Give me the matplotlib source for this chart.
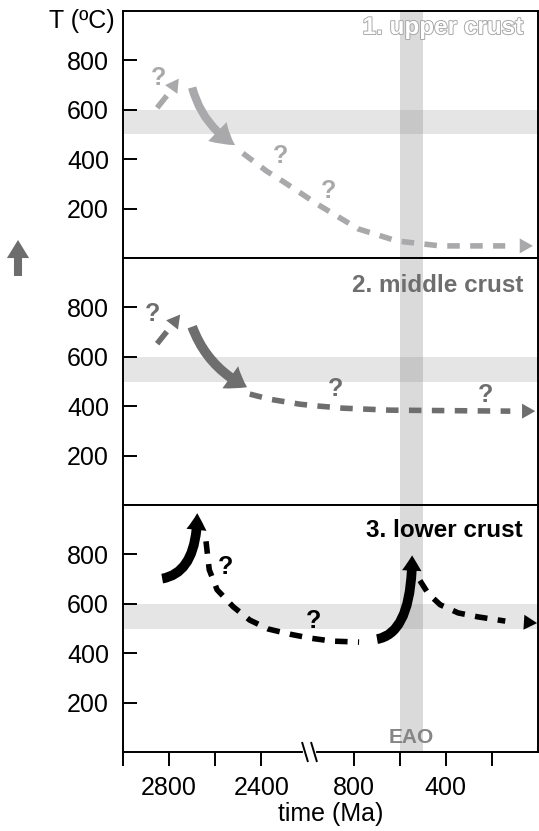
import matplotlib.pyplot as plt
import matplotlib.patheffects as pe
from matplotlib.markers import MarkerStyle
from matplotlib.patches import FancyArrowPatch
from matplotlib.transforms import Affine2D
import numpy as np

plt.rcParams['font.family'] = ['Liberation Sans', 'DejaVu Sans']
plt.rcParams['lines.scale_dashes'] = False

# time axis: 3000-2400 Ma and 800-0 Ma at 200 Ma per tick, 2400-800 Ma squeezed (axis break)
axis_ma = [0, 800, 2400, 3000]
axis_pos = [0, 4, 6, 9]


def fwd(x):
    return np.interp(x, axis_ma, axis_pos)


def inv(p):
    return np.interp(p, axis_pos, axis_ma)


tick_ma = [3000, 2800, 2600, 2400, 800, 600, 400, 200]
tick_labels = ['', '2800', '', '2400', '800', '', '400', '']
temp_ticks = [200, 400, 600, 800]
band_T = (500, 600)
eao_ma = (600, 500)
break_ma = [1650, 1480]

# 1. upper crust
up_early_ma = [2852, 2810]
up_early_T = [608, 657]
up_early_tip = (2758, 726)
up_solid = [(2700, 690), (2514, 457)]
up_cool_ma = [2480, 2304, 2024, 1416, 780, 612, 424, 142]
up_cool_T = [424, 351, 310, 216, 118, 69, 49, 49]
up_cool_tip = (22, 49)
up_q_ma = [2848, 2072, 1240]
up_q_T = [730, 412, 273]

# 2. middle crust
mid_early_ma = [2852, 2810]
mid_early_T = [653, 702]
mid_early_tip = (2752, 771)
mid_solid = [(2700, 722), (2462, 477)]
mid_cool_ma = [2450, 2248, 1728, 1384, 984, 642, 120]
mid_cool_T = [449, 428, 408, 400, 392, 384, 380]
mid_cool_tip = (12, 380)
mid_q_ma = [2870, 1120, 226]
mid_q_T = [775, 469, 445]

# 3. lower crust
low_solid1 = [(2830, 702), (2678, 967)]
low_cool1_ma = [2640, 2626, 2592, 2522, 2450, 2280, 1904, 1552, 1176, 776]
low_cool1_T = [853, 738, 657, 588, 534, 498, 477, 461, 449, 445]
low_solid2 = [(698, 457), (546, 796)]
low_cool2_ma = [512, 476, 424, 346, 260, 142]
low_cool2_T = [694, 641, 596, 563, 547, 530]
low_cool2_tip = (4, 522)
low_q_ma = [2554, 1488]
low_q_T = [747, 530]

c_up, c_mid, c_low = '#a9a9ab', '#6e6e6e', 'black'


def dashed_path(ax, xs, ys, tip, color):
    ax.plot(xs, ys, color=color, lw=4, dashes=(9, 7.5), dash_capstyle='butt', zorder=3)
    if tip is not None:
        ax.annotate('', xy=tip, xytext=(xs[-1], ys[-1]),
                    arrowprops=dict(arrowstyle='-|>,head_length=9.5,head_width=5.4',
                                    color=color, lw=0, shrinkA=0, shrinkB=0,
                                    mutation_scale=1), zorder=3)


def solid_arrow(ax, pts, color, conn, tail, head_w, head_l):
    ax.add_patch(FancyArrowPatch(pts[0], pts[1], connectionstyle=conn,
                                 arrowstyle=f'simple,head_length={head_l},head_width={head_w},tail_width={tail}',
                                 mutation_scale=1, color=color, lw=0, shrinkA=0, shrinkB=0, zorder=3))


def question_marks(ax, xs, ys, color):
    for x, y in zip(xs, ys):
        ax.text(x, y, '?', ha='center', va='center', fontsize=18, fontweight='bold', color=color)


fig = plt.figure(figsize=(5.39, 8.31), dpi=100)
panel_h = 247 / 831
left, width = 123 / 539, 415 / 539
bottom0 = 79 / 831
axes = [fig.add_axes([left, bottom0 + k * panel_h, width, panel_h]) for k in (2, 1, 0)]

for ax in axes:
    ax.set_xscale('function', functions=(fwd, inv))
    ax.set_xlim(3000, 0)
    ax.set_ylim(0, 1000)
    ax.axhspan(*band_T, color='#808080', alpha=0.2, lw=0, zorder=0)
    ax.axvspan(*eao_ma, color='#808080', alpha=0.29, lw=0, zorder=0)
    ax.set_yticks(temp_ticks)
    ax.tick_params(axis='y', direction='in', length=10, width=1.4, labelsize=18, pad=10)
    for s in ax.spines.values():
        s.set_linewidth(1.4)

ax1, ax2, ax3 = axes
for ax in (ax1, ax2):
    ax.tick_params(axis='x', bottom=False, labelbottom=False)
ax3.set_xticks(tick_ma, tick_labels)
ax3.tick_params(axis='x', direction='out', length=10, width=1.4, labelsize=18, pad=7)
ax3.set_xlabel('time (Ma)', fontsize=18, labelpad=2)

# panel 1
ax1.plot(up_early_ma, up_early_T, color=c_up, lw=4, solid_capstyle='butt')
ax1.annotate('', xy=up_early_tip, xytext=(up_early_ma[-1], up_early_T[-1]),
             arrowprops=dict(arrowstyle='-|>,head_length=9.5,head_width=5.4', color=c_up,
                             lw=0, shrinkA=0, shrinkB=0, mutation_scale=1))
solid_arrow(ax1, up_solid, c_up, 'arc3,rad=0.2', 6, 19, 16)
dashed_path(ax1, up_cool_ma, up_cool_T, up_cool_tip, c_up)
question_marks(ax1, up_q_ma, up_q_T, c_up)
ax1.text(0.964, 0.907, '1. upper crust', transform=ax1.transAxes, ha='right', va='baseline',
         fontsize=17.5, fontweight='bold', color='white',
         path_effects=[pe.withStroke(linewidth=1.3, foreground='#a3a3a3')])

# panel 2
ax2.plot(mid_early_ma, mid_early_T, color=c_mid, lw=4, solid_capstyle='butt')
ax2.annotate('', xy=mid_early_tip, xytext=(mid_early_ma[-1], mid_early_T[-1]),
             arrowprops=dict(arrowstyle='-|>,head_length=9.5,head_width=5.4', color=c_mid,
                             lw=0, shrinkA=0, shrinkB=0, mutation_scale=1))
solid_arrow(ax2, mid_solid, c_mid, 'arc3,rad=0.2', 7, 19.5, 14)
dashed_path(ax2, mid_cool_ma, mid_cool_T, mid_cool_tip, c_mid)
question_marks(ax2, mid_q_ma, mid_q_T, c_mid)
ax2.text(0.964, 0.862, '2. middle crust', transform=ax2.transAxes, ha='right', va='baseline',
         fontsize=17.5, fontweight='bold', color=c_mid)

# panel 3
solid_arrow(ax3, low_solid1, c_low, 'angle3,angleA=10,angleB=90', 7, 14.5, 12)
dashed_path(ax3, low_cool1_ma, low_cool1_T, None, c_low)
solid_arrow(ax3, low_solid2, c_low, 'angle3,angleA=10,angleB=90', 7, 14, 11)
dashed_path(ax3, low_cool2_ma, low_cool2_T, low_cool2_tip, c_low)
question_marks(ax3, low_q_ma, low_q_T, c_low)
ax3.text(0.964, 0.870, '3. lower crust', transform=ax3.transAxes, ha='right', va='baseline',
         fontsize=17.5, fontweight='bold', color=c_low)
ax3.text(np.mean(eao_ma), 57, 'EAO', ha='center', va='center', fontsize=15,
         fontweight='bold', color='#858585')

# axis break on the time axis
brk = ax3.get_xaxis_transform()
slash = MarkerStyle('|', transform=Affine2D().rotate_deg(14))
ax3.plot(break_ma, [0, 0], color='white', lw=3, transform=brk, clip_on=False, zorder=5)
ax3.plot(break_ma, [0, 0], ls='none', marker=slash, ms=15, mew=1.4, color='black',
         transform=brk, clip_on=False, zorder=6)

# temperature label and arrow
fig.text(115 / 539, 1 - 21 / 831, 'T (ºC)', ha='right', va='center', fontsize=18)
fig.add_artist(FancyArrowPatch((18 / 539, 1 - 276 / 831), (18 / 539, 1 - 240 / 831),
                               transform=fig.transFigure, mutation_scale=1,
                               arrowstyle='simple,head_length=13,head_width=16,tail_width=5.8',
                               color='#6d6d6d', lw=0, shrinkA=0, shrinkB=0))

fig.savefig('out.png', dpi=100)
